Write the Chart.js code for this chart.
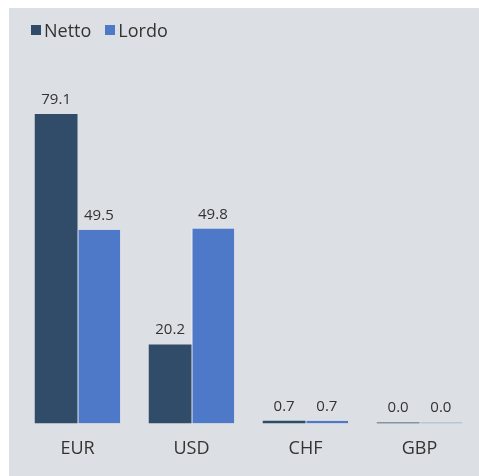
<!DOCTYPE html>
<html>
<head>
<meta charset="utf-8">
<script src="https://cdn.jsdelivr.net/npm/chart.js@4"></script>
<style>
  html, body { margin: 0; padding: 0; background: #fff; }
  body { width: 479px; height: 476px; overflow: hidden; position: relative; font-family: "Open Sans", sans-serif; }
  #box { position: absolute; left: 9px; top: 8px; width: 470px; height: 468px; background: #dcdfe3; }
  #legend { position: absolute; left: 22px; top: 11px; display: flex; font-size: 18px; color: #333; line-height: 22px; }
  #legend .item { display: flex; align-items: center; margin-right: 14px; }
  #legend .sw { width: 10px; height: 10px; margin-right: 3px; }
  #chart { position: absolute; left: 0; top: 0; }
</style>
</head>
<body>
<div id="box">
  <canvas id="chart" width="470" height="468"></canvas>
  <div id="legend"></div>
</div>
<script>
const categories = ['EUR', 'USD', 'CHF', 'GBP'];
const seriesNames = ['Netto', 'Lordo'];
const nettoValues = [79.1, 20.2, 0.7, 0.0];
const lordoValues = [49.5, 49.8, 0.7, 0.0];
const seriesColors = ['#304c68', '#4e78c8'];

const valueLabels = {
  id: 'valueLabels',
  afterDatasetsDraw(chart) {
    const ctx = chart.ctx;
    ctx.save();
    ctx.font = '15px "Open Sans"';
    ctx.fillStyle = '#333';
    ctx.textAlign = 'center';
    ctx.textBaseline = 'alphabetic';
    chart.data.datasets.forEach((ds, i) => {
      chart.getDatasetMeta(i).data.forEach((bar, j) => {
        ctx.fillText(ds.data[j].toFixed(1), bar.x, bar.y - 10);
      });
    });
    ctx.restore();
  }
};

const chart = new Chart(document.getElementById('chart'), {
  type: 'bar',
  data: {
    labels: categories,
    datasets: [
      { label: seriesNames[0], data: nettoValues, backgroundColor: seriesColors[0], borderWidth: 0 },
      { label: seriesNames[1], data: lordoValues, backgroundColor: seriesColors[1],
        borderColor: '#ffffff', borderWidth: { left: 1, right: 0, top: 0, bottom: 0 }, borderSkipped: false }
    ]
  },
  options: {
    responsive: false,
    animation: false,
    layout: { padding: { top: 102.5, bottom: 1, left: 11.5, right: 2.5 } },
    datasets: { bar: { categoryPercentage: 0.75, barPercentage: 1, minBarLength: 1 } },
    plugins: { legend: { display: false }, tooltip: { enabled: false } },
    scales: {
      x: {
        grid: { display: false, drawTicks: false },
        border: { display: false },
        ticks: { color: '#333', font: { family: 'Open Sans', size: 18 }, padding: 15 }
      },
      y: { display: false, min: 0, max: 80 }
    }
  },
  plugins: [valueLabels]
});

const legend = document.getElementById('legend');
chart.data.datasets.forEach((ds) => {
  const item = document.createElement('div');
  item.className = 'item';
  const sw = document.createElement('span');
  sw.className = 'sw';
  sw.style.background = ds.backgroundColor;
  const txt = document.createElement('span');
  txt.textContent = ds.label;
  item.appendChild(sw);
  item.appendChild(txt);
  legend.appendChild(item);
});
</script>
</body>
</html>
